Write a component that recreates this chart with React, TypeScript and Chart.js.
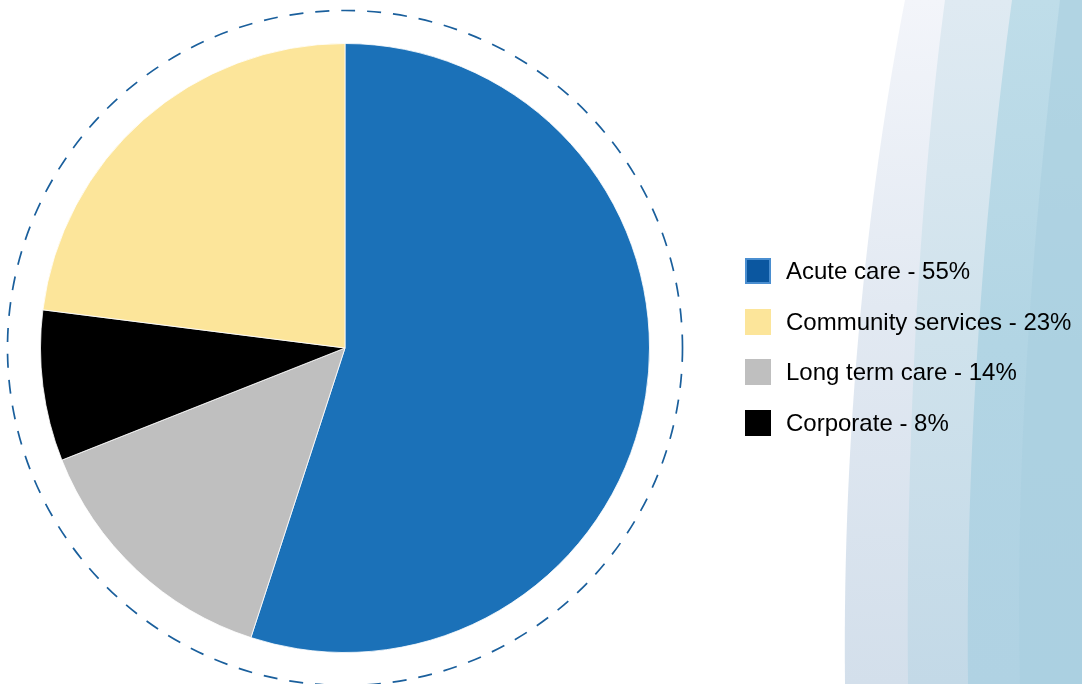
import React, { useEffect, useRef } from "react";
import { Chart, registerables } from "chart.js";

Chart.register(...registerables);

// Data in drawing order (clockwise from 12 o'clock)
const categories = ["Acute care", "Long term care", "Corporate", "Community services"];
const values = [55, 14, 8, 23];
const colors = ["#1b71b8", "#bfbfbf", "#000000", "#fce59a"];

// Legend order as in the reference (indices into categories) and its swatch colours
const legendOrder = [0, 3, 1, 2];
const legendColors = ["#0b57a0", "#fce59a", "#bfbfbf", "#000000"];

const backgroundPlugin = {
  id: "bgWaves",
  beforeDraw(chart: any) {
    const { ctx, width, height } = chart;
    ctx.save();
    ctx.beginPath();
    ctx.moveTo(905, 0);
    ctx.bezierCurveTo(870, 180, 842, 420, 845, height);
    ctx.lineTo(width, height);
    ctx.lineTo(width, 0);
    ctx.closePath();
    const g0 = ctx.createLinearGradient(0, 0, 0, height);
    g0.addColorStop(0, "#f3f5fa");
    g0.addColorStop(0.45, "#e2e9f2");
    g0.addColorStop(1, "#d3dfeb");
    ctx.fillStyle = g0;
    ctx.fill();

    ctx.beginPath();
    ctx.moveTo(945, 0);
    ctx.bezierCurveTo(925, 150, 905, 400, 908, height);
    ctx.lineTo(width, height);
    ctx.lineTo(width, 0);
    ctx.closePath();
    const g1 = ctx.createLinearGradient(0, 0, 0, height);
    g1.addColorStop(0, "#dfeaf2");
    g1.addColorStop(0.5, "#cfe2ec");
    g1.addColorStop(1, "#c3d9e7");
    ctx.fillStyle = g1;
    ctx.fill();

    ctx.beginPath();
    ctx.moveTo(1012, 0);
    ctx.bezierCurveTo(985, 200, 965, 450, 968, height);
    ctx.lineTo(width, height);
    ctx.lineTo(width, 0);
    ctx.closePath();
    const g2 = ctx.createLinearGradient(0, 0, 0, height);
    g2.addColorStop(0, "#bfdde9");
    g2.addColorStop(0.5, "#b2d5e4");
    g2.addColorStop(1, "#b0d2e3");
    ctx.fillStyle = g2;
    ctx.fill();

    ctx.beginPath();
    ctx.moveTo(1060, 0);
    ctx.bezierCurveTo(1030, 250, 1015, 480, 1020, height);
    ctx.lineTo(width, height);
    ctx.lineTo(width, 0);
    ctx.closePath();
    ctx.fillStyle = "rgba(168,206,224,0.6)";
    ctx.fill();
    ctx.restore();
  },
};

const dashedRingPlugin = {
  id: "dashedRing",
  afterDatasetsDraw(chart: any) {
    const arc = chart.getDatasetMeta(0).data[0];
    if (!arc) return;
    const { ctx } = chart;
    ctx.save();
    ctx.beginPath();
    ctx.arc(arc.x, arc.y, arc.outerRadius + 33, 0, Math.PI * 2);
    ctx.setLineDash([14, 12]);
    ctx.lineWidth = 1.7;
    ctx.strokeStyle = "#1a5f9c";
    ctx.stroke();
    ctx.restore();
  },
};

export default function App() {
  const canvasRef = useRef<HTMLCanvasElement>(null);

  useEffect(() => {
    if (!canvasRef.current) return;
    const chart = new Chart(canvasRef.current, {
      type: "pie",
      data: {
        labels: categories,
        datasets: [
          {
            data: values,
            backgroundColor: colors,
            borderColor: "rgba(255,255,255,0.8)",
            borderWidth: 1,
          },
        ],
      },
      options: {
        animation: false,
        responsive: false,
        maintainAspectRatio: false,
        layout: { padding: { left: 40, right: 432, top: 43, bottom: 31 } },
        plugins: {
          legend: { display: false },
          tooltip: { enabled: false },
        },
      },
      plugins: [backgroundPlugin, dashedRingPlugin],
    });
    return () => chart.destroy();
  }, []);

  return (
    <div style={{ position: "absolute", left: 0, top: 0, width: 1082, height: 684, background: "#fff", overflow: "hidden" }}>
      <canvas ref={canvasRef} width={1082} height={684} style={{ position: "absolute", left: 0, top: 0 }} />
      <div style={{ position: "absolute", left: 745, top: 258, fontFamily: "'Liberation Sans', Arial, sans-serif", fontSize: 24, color: "#000" }}>
        {legendOrder.map((idx, i) => (
          <div key={idx} style={{ display: "flex", alignItems: "center", height: 26, marginBottom: i < 3 ? 24.6 : 0 }}>
            <div
              style={{
                width: i === 0 ? 22 : 26,
                height: i === 0 ? 22 : 26,
                background: legendColors[i],
                border: i === 0 ? "2px solid #4a8ed0" : "none",
                marginRight: 15,
                flexShrink: 0,
              }}
            />
            <span style={{ whiteSpace: "nowrap", lineHeight: "26px" }}>{categories[idx]} - {values[idx]}%</span>
          </div>
        ))}
      </div>
    </div>
  );
}
